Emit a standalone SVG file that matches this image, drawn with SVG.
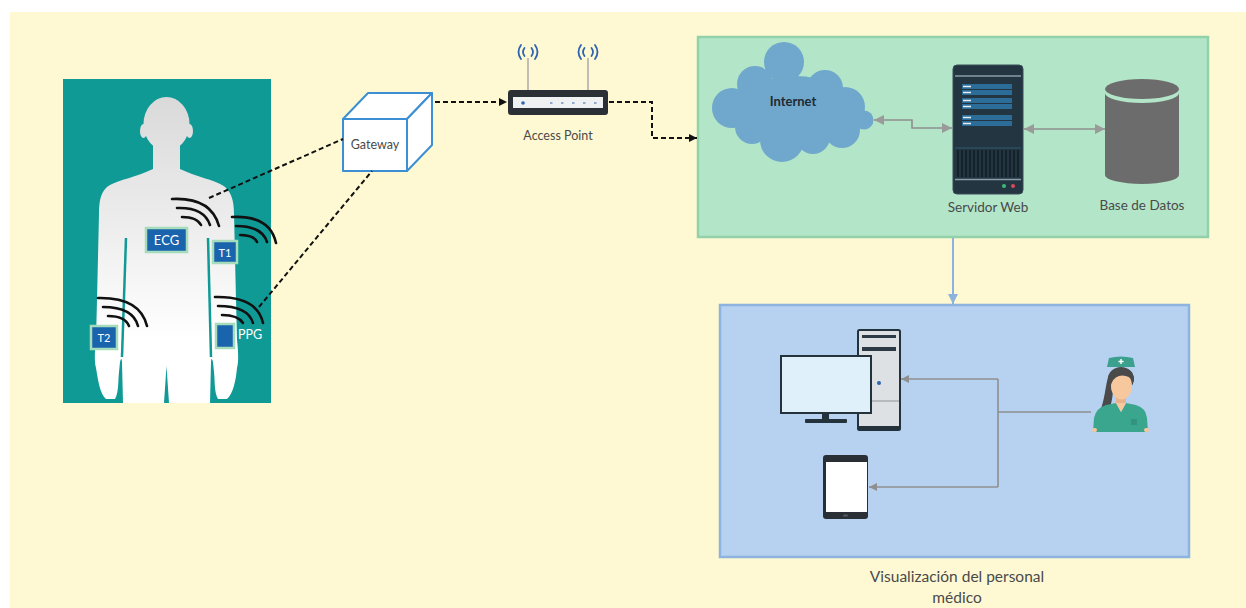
<svg xmlns="http://www.w3.org/2000/svg" width="1246" height="608" viewBox="0 0 1246 608">
  <style>
    .lbl { font-family: Lato, "Liberation Sans", sans-serif; font-size: 13.5px; fill: #4a4a4a; text-anchor: middle; }
    .tag { font-family: Lato, "Liberation Sans", sans-serif; fill: #ffffff; text-anchor: middle; }
    .sensor { fill: #1a63ad; stroke: #a4dcbc; stroke-width: 2.5; }
    .wave { fill: none; stroke: #111111; stroke-width: 2.6; stroke-linecap: round; }
    .dash { fill: none; stroke: #111111; stroke-width: 2; stroke-dasharray: 5 3; }
    .grey { fill: none; stroke: #8f8f8f; stroke-width: 1.6; }
    .wifi { fill: none; stroke: #2f64b0; stroke-width: 1.8; stroke-linecap: round; }
    .dark { stroke: #24323c; }
  </style>
  <defs>
    <linearGradient id="skin" x1="0" y1="95" x2="0" y2="340" gradientUnits="userSpaceOnUse">
      <stop offset="0" stop-color="#d9d9d9"/>
      <stop offset="1" stop-color="#ffffff"/>
    </linearGradient>
    <marker id="arrBlack" viewBox="0 0 10 10" refX="10" refY="5" markerWidth="8" markerHeight="8" markerUnits="userSpaceOnUse" orient="auto">
      <path d="M0,0 L10,5 L0,10 Z" fill="#111111"/>
    </marker>
    <marker id="arrGrey" viewBox="0 0 10 10" refX="10" refY="5" markerWidth="10" markerHeight="11" markerUnits="userSpaceOnUse" orient="auto-start-reverse">
      <path d="M0,0 L10,5 L0,10 Z" fill="#9a9a9a"/>
    </marker>
    <marker id="arrGreySm" viewBox="0 0 10 10" refX="10" refY="5" markerWidth="8" markerHeight="8" markerUnits="userSpaceOnUse" orient="auto">
      <path d="M0,0 L10,5 L0,10 Z" fill="#8f8f8f"/>
    </marker>
    <marker id="arrBlue" viewBox="0 0 10 10" refX="10" refY="5" markerWidth="10" markerHeight="10" markerUnits="userSpaceOnUse" orient="auto">
      <path d="M0,0 L10,5 L0,10 Z" fill="#8db2de"/>
    </marker>
  </defs>

  <!-- canvas -->
  <rect x="10" y="12" width="1236" height="596" fill="#fef9d2"/>

  <!-- containers -->
  <g id="cloud-zone">
    <rect x="698" y="37" width="510" height="200" fill="#b3e5c8" stroke="#93d1aa" stroke-width="2.5"/>
  </g>
  <g id="viewer-zone">
    <rect x="720" y="305" width="469" height="252" fill="#b7d2f0" stroke="#8eb3df" stroke-width="2.5"/>
    <text class="lbl" x="957" y="582" style="font-size:15.5px">Visualización del personal</text>
    <text class="lbl" x="957" y="603" style="font-size:15.5px">médico</text>
  </g>

  <!-- patient with wearable sensors -->
  <g id="patient">
    <rect x="63" y="79" width="208" height="324" fill="#109a96"/>
    <g fill="url(#skin)">
      <ellipse cx="166.5" cy="124" rx="23" ry="27"/>
      <ellipse cx="143.5" cy="131" rx="3.5" ry="7"/>
      <ellipse cx="189.5" cy="131" rx="3.5" ry="7"/>
      <rect x="153" y="140" width="27" height="34"/>
      <path d="M153 169 C136 177 119 180 110 185 C101 190 99 200 99 214 L97 300 L96 340 C95 350 94 360 96 368 C98 380 100 394 106 399 L115 399 C119 392 118 380 119 372 L120 362 C121 358 122 358 122 363 L123 403 L164 403 L166.5 366 L169 403 L210 403 L211 363 C211 358 212 358 213 362 L214 372 C215 380 214 392 218 399 L227 399 C233 394 236 380 237 368 C239 360 238 350 237 340 L236 300 L234 214 C234 200 231 190 222 185 C214 180 197 177 180 169 Z"/>
    </g>
    <g fill="none" stroke="#109a96" stroke-width="2.5">
      <path d="M126 238 L122 357"/>
      <path d="M208 238 L211 357"/>
    </g>
    <!-- signal waves -->
    <path class="wave" d="M172 199 Q211 197 219 226"/>
    <path class="wave" d="M177 208 Q204 207 210 225"/>
    <path class="wave" d="M182 217 Q197 217 201 225"/>
    <path class="wave" d="M232 217 Q270 215 276 243"/>
    <path class="wave" d="M236 226 Q262 226 267 242"/>
    <path class="wave" d="M240 235 Q254 235 257 242"/>
    <path class="wave" d="M98 298 Q140 297 147 326"/>
    <path class="wave" d="M103 307 Q133 307 138 326"/>
    <path class="wave" d="M108 316 Q125 316 129 326"/>
    <path class="wave" d="M215 297 Q257 296 263 323"/>
    <path class="wave" d="M218 306 Q248 306 253 323"/>
    <path class="wave" d="M222 315 Q238 315 243 323"/>
    <!-- sensors -->
    <rect class="sensor" x="146" y="228" width="41" height="24"/>
    <text class="tag" x="166.5" y="245" style="font-size:13px">ECG</text>
    <rect class="sensor" x="213" y="241" width="24" height="22"/>
    <text class="tag" x="225" y="256.5" style="font-size:11px">T1</text>
    <rect class="sensor" x="91" y="326" width="26" height="23"/>
    <text class="tag" x="104" y="342" style="font-size:11px">T2</text>
    <rect class="sensor" x="216" y="324" width="18" height="24"/>
    <text class="tag" x="250" y="339" style="font-size:12.5px">PPG</text>
  </g>

  <g id="gateway">
    <g fill="#ffffff" stroke="#3b8fd2" stroke-width="2" stroke-linejoin="round">
      <path d="M343 119 L368 93 L432 93 L407 119 Z"/>
      <path d="M407 119 L432 93 L432 145 L407 171 Z"/>
      <rect x="343" y="119" width="64" height="52"/>
    </g>
    <text class="lbl" x="375" y="149" style="font-size:12.5px">Gateway</text>
  </g>

  <g id="access-point">
    <line x1="528" y1="58" x2="528" y2="91" stroke="#aaaaaa" stroke-width="1.5"/>
    <line x1="588" y1="58" x2="588" y2="91" stroke="#aaaaaa" stroke-width="1.5"/>
    <path class="wifi" d="M521 45 Q516 52 521 59 M524.5 48 Q521.5 52 524.5 56 M535 45 Q540 52 535 59 M531.5 48 Q534.5 52 531.5 56"/>
    <path class="wifi" d="M581 45 Q576 52 581 59 M584.5 48 Q581.5 52 584.5 56 M595 45 Q600 52 595 59 M591.5 48 Q594.5 52 591.5 56"/>
    <rect x="508" y="90" width="100" height="25" rx="3" fill="#2a3036"/>
    <rect x="513" y="97" width="90" height="11" fill="#eef0f2"/>
    <circle cx="523" cy="103" r="1.8" fill="#2f64b0"/>
    <path d="M550 103 h2.5 M561 103 h2.5 M572 103 h2.5 M583 103 h2.5 M594 103 h2.5" stroke="#2f64b0" stroke-width="1.2"/>
    <text class="lbl" x="558" y="140" style="font-size:12.5px">Access Point</text>
  </g>

  <g id="internet">
    <g fill="#6fa8cc">
      <circle cx="784" cy="62" r="20"/>
      <circle cx="755" cy="84" r="18"/>
      <circle cx="732" cy="108" r="20"/>
      <circle cx="825" cy="88" r="18"/>
      <circle cx="845" cy="107" r="20"/>
      <circle cx="864" cy="120" r="9.5"/>
      <circle cx="752" cy="127" r="17"/>
      <circle cx="782" cy="140" r="22"/>
      <circle cx="813" cy="137" r="17"/>
      <circle cx="842" cy="130" r="18"/>
      <ellipse cx="795" cy="108" rx="55" ry="32"/>
    </g>
    <text x="793" y="106" text-anchor="middle" style="font-family:Lato, 'Liberation Sans', sans-serif;font-size:13px;font-weight:bold;fill:#1f2a33">Internet</text>
  </g>

  <g id="web-server">
    <rect x="953" y="65" width="70" height="129" rx="4" fill="#223541" stroke="#3a4d59" stroke-width="1"/>
    <line x1="955" y1="76" x2="1021" y2="76" stroke="#8c9ca6" stroke-width="1.5"/>
    <g fill="#2b6d98">
      <rect x="962" y="84" width="50" height="5"/>
      <rect x="962" y="90" width="50" height="5"/>
      <rect x="962" y="98" width="50" height="5"/>
      <rect x="962" y="104" width="50" height="5"/>
      <rect x="962" y="115" width="50" height="5"/>
      <rect x="962" y="121" width="50" height="5"/>
    </g>
    <path d="M963 86.5 h8 M963 92.5 h8 M963 100.5 h8 M963 106.5 h8 M963 117.5 h8 M963 123.5 h8" stroke="#e6eef3" stroke-width="1.3"/>
    <line x1="955" y1="148" x2="1021" y2="148" stroke="#2f5b72" stroke-width="1"/>
    <rect x="957" y="150" width="62" height="27" fill="#142229"/>
    <path d="M960 150 v27 M964 150 v27 M968 150 v27 M972 150 v27 M976 150 v27 M980 150 v27 M984 150 v27 M988 150 v27 M992 150 v27 M996 150 v27 M1000 150 v27 M1004 150 v27 M1008 150 v27 M1012 150 v27 M1016 150 v27" stroke="#34495a" stroke-width="1"/>
    <line x1="955" y1="179.5" x2="1021" y2="179.5" stroke="#8c9ca6" stroke-width="1.5"/>
    <circle cx="1004" cy="186" r="2" fill="#3dbb7a"/>
    <circle cx="1013" cy="186" r="2" fill="#e0475a"/>
    <text class="lbl" x="988" y="212">Servidor Web</text>
  </g>

  <g id="database">
    <ellipse cx="1142" cy="89" rx="37" ry="10" fill="#6c6c6c"/>
    <path d="M1105 93 A37 10 0 0 0 1179 93 L1179 175 A37 9 0 0 1 1105 175 Z" fill="#6c6c6c"/>
    <text class="lbl" x="1142" y="210">Base de Datos</text>
  </g>

  <g id="desktop">
    <rect x="858" y="330" width="42" height="100" rx="1.5" fill="#dde1e4" stroke="#24323c" stroke-width="2"/>
    <rect x="862" y="335" width="34" height="3" fill="#2b3a45"/>
    <rect x="862" y="347" width="34" height="4" fill="#2b3a45"/>
    <circle cx="879" cy="383" r="2" fill="#2f64b0"/>
    <line x1="859" y1="401" x2="899" y2="401" stroke="#a9adb1" stroke-width="1.5"/>
    <rect x="859" y="426" width="40" height="4" fill="#24323c"/>
    <rect x="781" y="356" width="90" height="57" fill="#dff0fa" stroke="#24323c" stroke-width="2"/>
    <rect x="822" y="413" width="7" height="7" fill="#24323c"/>
    <rect x="805" y="419" width="42" height="4" rx="1" fill="#24323c"/>
  </g>

  <g id="tablet">
    <rect x="823" y="455" width="45" height="64" rx="3" fill="#2a2e35"/>
    <rect x="826" y="462" width="41" height="50" fill="#ffffff"/>
    <rect x="843" y="514.5" width="5" height="2" rx="1" fill="#555a62"/>
  </g>

  <g id="nurse">
    <path d="M1109 374 C1105 386 1105 400 1100 411 C1097 418 1102 421 1106 416 C1111 408 1113 397 1113 388 Z" fill="#4a4a4a"/>
    <ellipse cx="1121" cy="379" rx="13" ry="12" fill="#4a4a4a"/>
    <rect x="1116" y="396" width="10" height="10" fill="#e8b38b"/>
    <ellipse cx="1121.5" cy="386" rx="10.5" ry="13.5" fill="#f7c79e"/>
    <path d="M1109 384 Q1109 368 1122 368 Q1134 368 1134 382 Q1128 374 1119 376 Q1112 378 1110 388 Z" fill="#4a4a4a"/>
    <path d="M1107 367 L1109 358 Q1121 355 1133 358 L1135 367 Z" fill="#3ba08d"/>
    <path d="M1121 359 v5 M1118.5 361.5 h5" stroke="#ffffff" stroke-width="1.4"/>
    <path d="M1093 432 L1094 418 Q1096 408 1106 405 L1116 403 L1121 412 L1126 403 L1136 405 Q1146 408 1147 418 L1148 432 Z" fill="#3aa68e"/>
    <path d="M1116 403 L1121 412 L1126 403 Z" fill="#f7c79e"/>
    <rect x="1131" y="419" width="6" height="6" fill="#33937e"/>
    <rect x="1092" y="428" width="5" height="4" rx="2" fill="#f7c79e"/>
    <rect x="1144" y="428" width="5" height="4" rx="2" fill="#f7c79e"/>
  </g>

  <!-- connectors -->
  <g id="connectors">
    <path class="dash" d="M209 198 L343 139"/>
    <path class="dash" d="M259 307 L372 171"/>
    <path class="dash" d="M435 102 L507 102" marker-end="url(#arrBlack)"/>
    <path class="dash" d="M609 102 L652 102 L652 138 L697 138" marker-end="url(#arrBlack)"/>
    <path class="grey" d="M874 120 L912 120 L912 128 L952 128" marker-start="url(#arrGrey)" marker-end="url(#arrGrey)"/>
    <path class="grey" d="M1024 129 L1105 129" marker-start="url(#arrGrey)" marker-end="url(#arrGrey)"/>
    <path d="M953 238 L953 304" fill="none" stroke="#8db2de" stroke-width="2" marker-end="url(#arrBlue)"/>
    <path class="grey" d="M1091 412 L998 412 M998 379 L998 487"/>
    <path class="grey" d="M998 379 L901 379" marker-end="url(#arrGreySm)"/>
    <path class="grey" d="M998 487 L869 487" marker-end="url(#arrGreySm)"/>
  </g>
</svg>
